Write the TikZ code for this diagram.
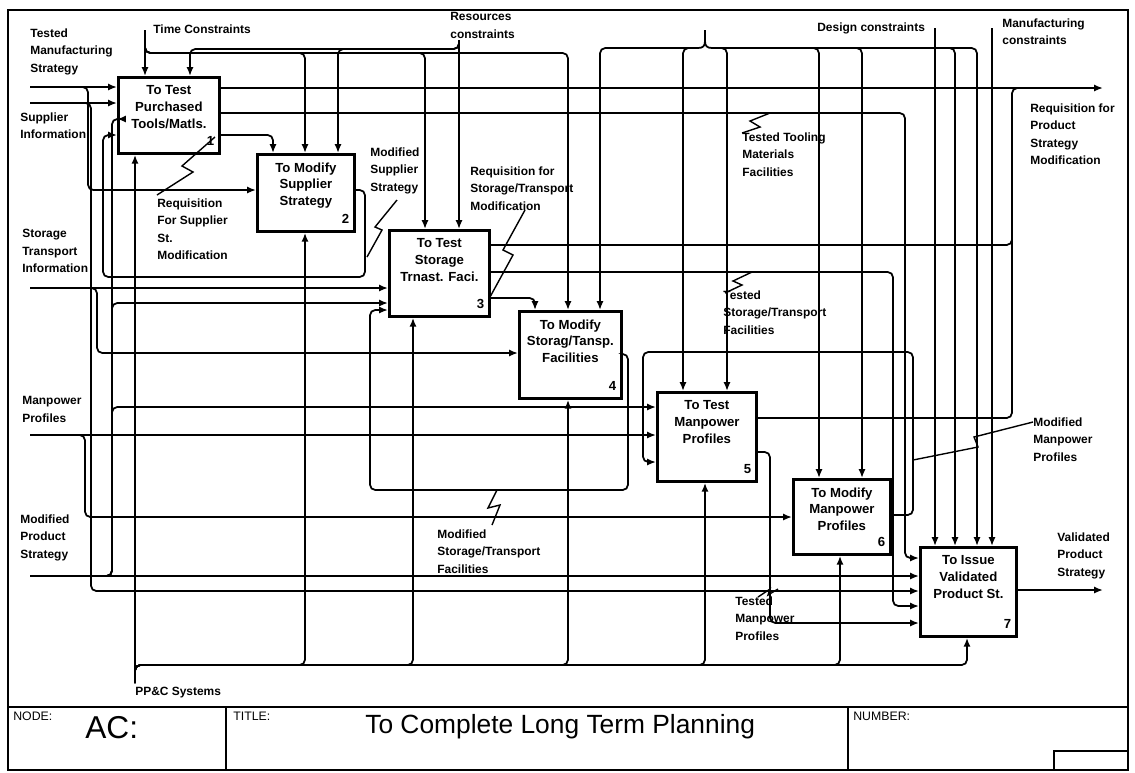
\documentclass[tikz,border=0pt]{standalone}
\usepackage{fontspec}
\setmainfont{Liberation Sans}
\usetikzlibrary{arrows.meta}

\begin{document}
\begin{tikzpicture}[x=0.02cm,y=-0.02cm,
  wire/.style={line width=1pt},
  flow/.style={wire,-{Latex[length=5pt,width=4pt]}},
  elbow/.style={rounded corners=3pt},
  squiggle/.style={line width=0.8pt},
  fn/.style={draw,line width=1.6pt,anchor=north west,inner sep=0pt},
  fntext/.style={anchor=north,align=center,inner sep=0pt,yshift=-5.2pt,
    font=\fontsize{7.5}{9.6}\selectfont\bfseries},
  fnnum/.style={anchor=south east,inner sep=0pt,xshift=-3.5pt,yshift=5pt,
    font=\fontsize{7.5}{9}\selectfont\bfseries},
  arrowlabel/.style={anchor=north west,align=left,inner sep=0pt,
    font=\fontsize{6.8}{10}\selectfont\bfseries},
  formtext/.style={anchor=north west,inner sep=0pt,font=\fontsize{7}{8}\selectfont}]
  \useasboundingbox (0,0) rectangle (1135,772);

  % Form frame and title block
  \draw[line width=1.2pt] (8,10) rectangle (1128,770);
  \draw[line width=1pt] (8,707) -- (1128,707) (226,707) -- (226,770)
    (848,707) -- (848,770) (1054,751) rectangle (1128,770);
  \node[formtext] (nodelbl) at (13,712) {NODE:};
  \node[anchor=base west,inner sep=0pt,font=\fontsize{18}{20}\selectfont] (nodeid) at (85,738) {AC:};
  \node[formtext] (titlelbl) at (233,712) {TITLE:};
  \node[anchor=base west,inner sep=0pt,font=\fontsize{15}{18}\selectfont] (title) at (365,733) {To Complete Long Term Planning};
  \node[formtext] (numlbl) at (853,712) {NUMBER:};

  % Activity boxes
  \foreach \n/\x/\y/\w/\h/\lbl in {
    1/117/76/2.02/1.52/{To Test\\Purchased\\Tools/Matls.},
    2/256/153/1.94/1.54/{To Modify\\Supplier\\Strategy},
    3/388/229/2.00/1.72/{To Test\\Storage\\Trnast. Faci.},
    4/518/310/2.04/1.74/{To Modify\\Storag/Tansp.\\Facilities},
    5/656/391/1.98/1.78/{To Test\\Manpower\\Profiles},
    6/792/478/1.94/1.50/{To Modify\\Manpower\\Profiles},
    7/919/546/1.92/1.78/{To Issue\\Validated\\Product St.}}
    \node[fn,minimum width=\w cm,minimum height=\h cm,
      label={[fntext]north:\lbl},label={[fnnum]south east:\n}] (b\n) at (\x,\y) {};

  % Arrow labels
  \node[arrowlabel] (tmsLbl) at (30,28) {Tested\\Manufacturing\\Strategy};
  \node[arrowlabel] (supLbl) at (20,112) {Supplier\\Information};
  \node[arrowlabel] (stoLbl) at (22,229) {Storage\\Transport\\Information};
  \node[arrowlabel] (manLbl) at (22,396) {Manpower\\Profiles};
  \node[arrowlabel] (mpsLbl) at (20,514) {Modified\\Product\\Strategy};
  \node[arrowlabel] (timeLbl) at (153,24) {Time Constraints};
  \node[arrowlabel] (resLbl) at (450,12) {Resources\\constraints};
  \node[arrowlabel] (desLbl) at (817,22) {Design constraints};
  \node[arrowlabel] (mfgLbl) at (1002,18) {Manufacturing\\constraints};
  \node[arrowlabel] (reqLbl) at (1030,103) {Requisition for\\Product\\Strategy\\Modification};
  \node[arrowlabel] (reqSupLbl) at (157,198) {Requisition\\For Supplier\\St.\\Modification};
  \node[arrowlabel] (modSupLbl) at (370,147) {Modified\\Supplier\\Strategy};
  \node[arrowlabel] (reqStoLbl) at (470,166) {Requisition for\\Storage/Transport\\Modification};
  \node[arrowlabel] (tstToolLbl) at (742,132) {Tested Tooling\\Materials\\Facilities};
  \node[arrowlabel] (tstStoLbl) at (723,290) {Tested\\Storage/Transport\\Facilities};
  \node[arrowlabel] (modStoLbl) at (437,529) {Modified\\Storage/Transport\\Facilities};
  \node[arrowlabel] (tstManLbl) at (735,596) {Tested\\Manpower\\Profiles};
  \node[arrowlabel] (modManLbl) at (1033,417) {Modified\\Manpower\\Profiles};
  \node[arrowlabel] (valLbl) at (1057,532) {Validated\\Product\\Strategy};
  \node[arrowlabel] (ppcLbl) at (135,687) {PP\&C Systems};

  % Boundary ends
  \coordinate (tmsIn) at (30,87);
  \coordinate (supIn) at (30,103);
  \coordinate (stoIn) at (30,288);
  \coordinate (manIn) at (30,435);
  \coordinate (mpsIn) at (30,576);
  \coordinate (timeIn) at (145,30);
  \coordinate (resIn) at (459,40);
  \coordinate (desIn) at (935,28);
  \coordinate (mfgIn) at (992,28);
  \coordinate (ppcIn) at (135,683);
  \coordinate (reqOut) at (1103,88);
  \coordinate (valOut) at (1103,590);
  \coordinate (braceL) at (698,48);
  \coordinate (braceR) at (712,48);

  % Inputs
  \draw[flow] (tmsIn) -- (b1.west |- tmsIn);
  \draw[flow,elbow] (tmsIn) -| (88,190) -- (b2.west |- 0,190);
  \draw[flow] (supIn) -- (b1.west |- supIn);
  \draw[flow,elbow] (supIn) -| (91,591) -- (b7.west |- 0,591);
  \draw[flow] (stoIn) -- (b3.west |- stoIn);
  \draw[flow,elbow] (stoIn) -| (97,353) -- (b4.west |- 0,353);
  \draw[flow] (manIn) -- (b5.west |- manIn);
  \draw[flow,elbow] (manIn) -| (85,517) -- (b6.west |- 0,517);
  \draw[flow] (mpsIn) -- (b7.west |- mpsIn);
  \foreach \yy/\b in {119/b1,303/b3,407/b5}
    \draw[flow,elbow] (mpsIn) -| (112,\yy) -- (\b.west |- 0,\yy);

  % Controls
  \draw[flow] (timeIn) -- (145,0 |- b1.north);
  \foreach \xx/\b in {305/b2,425/b3,568/b4}
    \draw[flow,elbow] (timeIn) |- (\xx,53) -- (\xx,0 |- \b.north);
  \draw[flow] (resIn) -- (459,0 |- b3.north);
  \foreach \xx/\b in {338/b2,190/b1}
    \draw[flow,elbow] (resIn) |- (\xx,49) -- (\xx,0 |- \b.north);
  \draw[wire] (705,30) -- (705,41)
    (braceL) .. controls (703,48) and (705,46) .. (705,41)
    .. controls (705,46) and (707,48) .. (braceR);
  \foreach \xx/\b in {600/b4,683/b5}
    \draw[flow,elbow] (braceL) -| (\xx,0 |- \b.north);
  \foreach \xx/\b in {727/b5,819/b6,862/b6,955/b7,977/b7}
    \draw[flow,elbow] (braceR) -| (\xx,0 |- \b.north);
  \draw[flow] (desIn) -- (935,0 |- b7.north);
  \draw[flow] (mfgIn) -- (992,0 |- b7.north);

  % Mechanisms
  \draw[flow] (ppcIn) -- (135,0 |- b1.south);
  \foreach \xx/\b in {305/b2,413/b3,568/b4,705/b5,840/b6,967/b7}
    \draw[flow,elbow] (ppcIn) |- (\xx,665) -- (\xx,0 |- \b.south);

  % Outputs and feedback
  \draw[flow] (b1.east |- reqOut) -- (reqOut);
  \draw[flow,elbow] (b1.east |- 0,113) -| (905,558) -- (b7.west |- 0,558);
  \draw[flow,elbow] (b1.east |- 0,135) -| (273,0 |- b2.north);
  \draw[flow,elbow] (b2.east |- 0,190) -| (365,277) -| (103,135) -- (b1.west |- 0,135);
  \draw[wire,elbow] (b3.east |- 0,245) -| (1012,88) -- (1040,88);
  \draw[flow,elbow] (b3.east |- 0,272) -| (893,606) -- (b7.west |- 0,606);
  \draw[flow,elbow] (b3.east |- 0,298) -| (535,0 |- b4.north);
  \draw[flow,elbow] (b4.east |- 0,354) -| (628,490) -| (370,310) -- (b3.west |- 0,310);
  \draw[wire,elbow] (b5.east |- 0,418) -| (1012,200);
  \draw[flow,elbow] (b5.east |- 0,452) -| (770,623) -- (b7.west |- 0,623);
  \draw[flow,elbow] (b6.east |- 0,515) -| (913,352) -| (643,462) -- (b5.west |- 0,462);
  \draw[flow] (b7.east |- valOut) -- (valOut);

  % Squiggles tying labels to arrows
  \draw[squiggle] (157,195) -- (193,172) -- (182,166) -- (215,137);
  \draw[squiggle] (397,200) -- (375,227) -- (382,230) -- (367,257);
  \draw[squiggle] (525,210) -- (503,250) -- (513,255) -- (490,297);
  \draw[squiggle] (770,113) -- (750,121) -- (760,127) -- (742,133);
  \draw[squiggle] (752,272) -- (733,281) -- (742,285) -- (725,293);
  \draw[squiggle] (497,490) -- (488,508) -- (500,505) -- (492,525);
  \draw[squiggle] (758,597) -- (770,589) -- (768,595) -- (778,589);
  \draw[squiggle] (1033,422) -- (974,437) -- (978,447) -- (913,460);
\end{tikzpicture}
\end{document}
